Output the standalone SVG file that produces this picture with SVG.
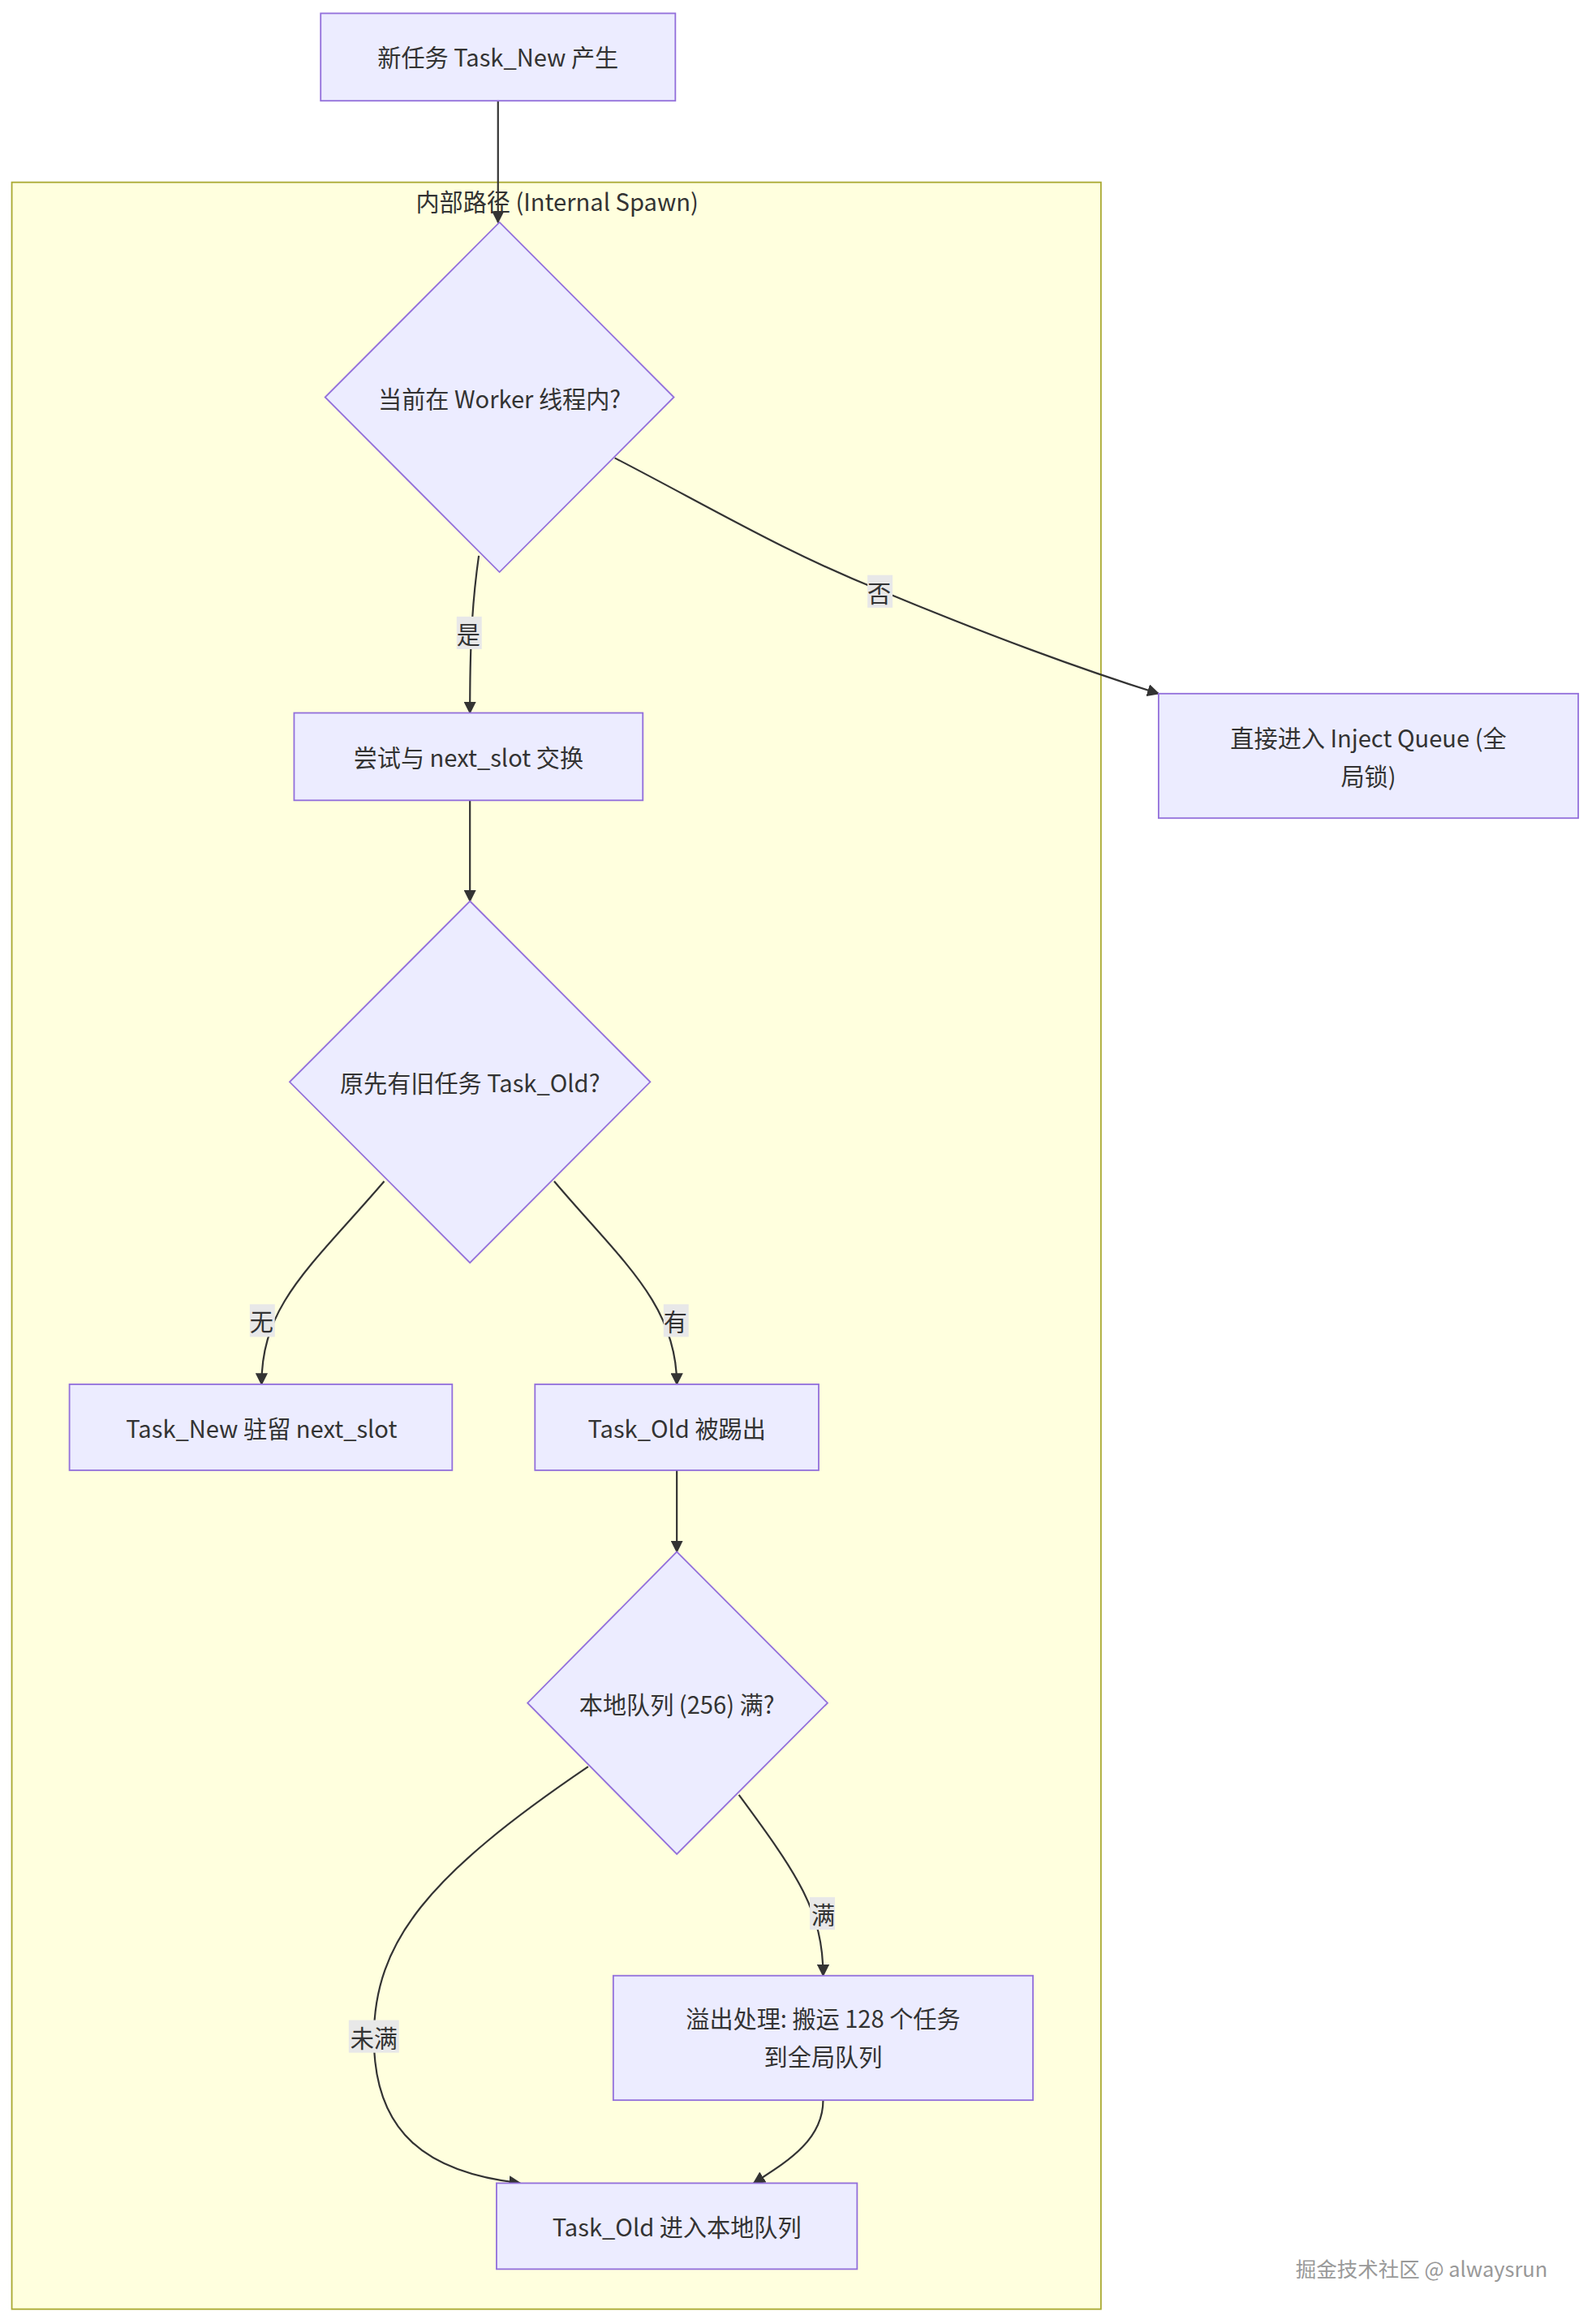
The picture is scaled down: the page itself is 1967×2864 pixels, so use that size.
<svg xmlns="http://www.w3.org/2000/svg" width="1967" height="2864" viewBox="0 0 1967 2864">
<style>
.n{fill:#ececff;stroke:#9370db;stroke-width:1}
.t{font-family:"Noto Sans CJK SC","Noto Sans",sans-serif;font-size:16px;fill:#333;text-anchor:middle;dominant-baseline:central}
.e{fill:none;stroke:#333;stroke-width:1.2}
.lb{fill:#e8e8e8;stroke:none}
</style>
<defs><marker id="a" viewBox="0 0 10 10" refX="9" refY="5" markerWidth="7" markerHeight="7" orient="auto"><path d="M0,0L10,5L0,10z" fill="#333"/></marker></defs>
<rect width="1967" height="2864" fill="#fff"/>
<g transform="scale(1.8213,1.8265)">
<g id="cluster"><rect x="8" y="123" width="737" height="1435" fill="#ffffde" stroke="#aaaa33"/><text class="t" x="377" y="135">内部路径 (Internal Spawn)</text></g>
<g id="edges">
<path class="e" d="M337,68L337,150" marker-end="url(#a)"/>
<path class="e" d="M324,375C319,410 318,440 318,481" marker-end="url(#a)"/>
<path class="e" d="M416,309C480,342 530,372 595,398C660,425 720,448 784,468" marker-end="url(#a)"/>
<path class="e" d="M318,540L318,608" marker-end="url(#a)"/>
<path class="e" d="M260,797C210,855 177,880 177,934" marker-end="url(#a)"/>
<path class="e" d="M375,797C420,850 458,880 458,934" marker-end="url(#a)"/>
<path class="e" d="M458,992L458,1047" marker-end="url(#a)"/>
<path class="e" d="M500,1211C540,1265 557,1290 557,1333" marker-end="url(#a)"/>
<path class="e" d="M398,1192C290,1265 253,1310 253,1375C253,1440 290,1466 352,1473" marker-end="url(#a)"/>
<path class="e" d="M557,1417C557,1445 530,1460 510,1473" marker-end="url(#a)"/>
<rect class="lb" x="309" y="416" width="17" height="22"/><text class="t" x="317" y="427">是</text>
<rect class="lb" x="587" y="388" width="17" height="22"/><text class="t" x="595" y="399">否</text>
<rect class="lb" x="169" y="880" width="17" height="22"/><text class="t" x="177" y="891">无</text>
<rect class="lb" x="449" y="880" width="17" height="22"/><text class="t" x="457" y="891">有</text>
<rect class="lb" x="548" y="1280" width="17" height="22"/><text class="t" x="557" y="1291">满</text>
<rect class="lb" x="236" y="1363" width="34" height="22"/><text class="t" x="253" y="1374">未满</text>
</g>
<g id="n1"><rect class="n" x="217" y="9" width="240" height="59"/><text class="t" x="337" y="38">新任务 Task_New 产生</text></g>
<g id="d1"><polygon class="n" points="338,150 456,268 338,386 220,268"/><text class="t" x="338" y="268">当前在 Worker 线程内?</text></g>
<g id="n2"><rect class="n" x="199" y="481" width="236" height="59"/><text class="t" x="317" y="510">尝试与 next_slot 交换</text></g>
<g id="n3"><rect class="n" x="784" y="468" width="284" height="84"/><text class="t" x="926" y="497">直接进入 Inject Queue (全</text><text class="t" x="926" y="523">局锁)</text></g>
<g id="d2"><polygon class="n" points="318,608 440,730 318,852 196,730"/><text class="t" x="318" y="730">原先有旧任务 Task_Old?</text></g>
<g id="n4"><rect class="n" x="47" y="934" width="259" height="58"/><text class="t" x="177" y="963">Task_New 驻留 next_slot</text></g>
<g id="n5"><rect class="n" x="362" y="934" width="192" height="58"/><text class="t" x="458" y="963">Task_Old 被踢出</text></g>
<g id="d3"><polygon class="n" points="458,1047 560,1149 458,1251 357,1149"/><text class="t" x="458" y="1149">本地队列 (256) 满?</text></g>
<g id="n6"><rect class="n" x="415" y="1333" width="284" height="84"/><text class="t" x="557" y="1361">溢出处理: 搬运 128 个任务</text><text class="t" x="557" y="1387">到全局队列</text></g>
<g id="n7"><rect class="n" x="336" y="1473" width="244" height="58"/><text class="t" x="458" y="1502">Task_Old 进入本地队列</text></g>
<text class="t" x="962" y="1530" style="font-size:14px;fill:#999">掘金技术社区 @ alwaysrun</text>
</g>
</svg>
